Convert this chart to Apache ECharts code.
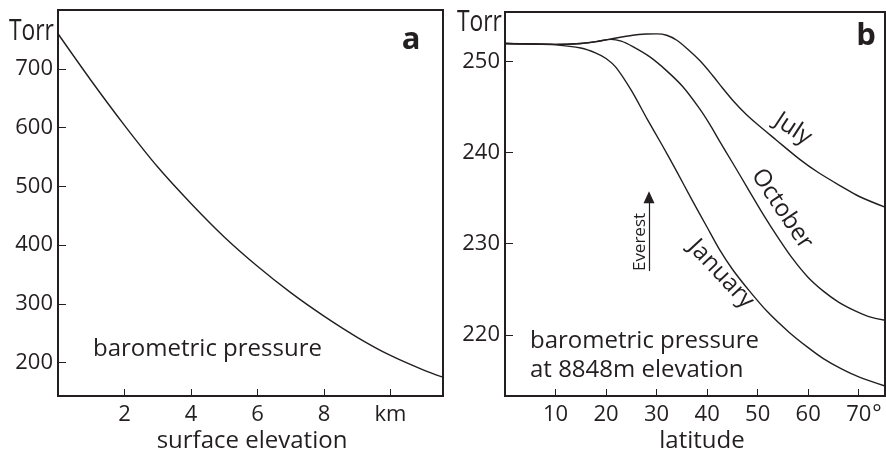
<!DOCTYPE html>
<html>
<head>
<meta charset="utf-8">
<script src="https://cdn.jsdelivr.net/npm/echarts@6/dist/echarts.min.js"></script>
<style>
html,body{margin:0;padding:0;background:#fff;}
#chart{width:886px;height:454px;}
</style>
</head>
<body>
<div id="chart"></div>
<script>
// Panel a: barometric pressure vs surface elevation
var elevKm = [0, 1, 2, 3, 4, 5, 6, 7, 8, 9, 10, 11, 11.55];
var pressureTorr = [760, 680, 604, 533, 471, 414, 364, 319, 279, 243, 212, 187, 175.5];
var elevTicks = [2, 4, 6, 8, 10];
var elevTickLabels = ['2', '4', '6', '8', 'km'];
var torrTicksA = [200, 300, 400, 500, 600, 700];

// Panel b: barometric pressure at 8848 m vs latitude
var janLat = [0, 5, 10, 15, 18, 20, 22, 25, 28, 31, 34, 37, 40, 42.4, 45, 48.4, 52, 56.2, 60, 63, 66.5, 70, 75.2];
var janP = [251.94, 251.9, 251.8, 251.45, 250.9, 250.3, 249.3, 246.8, 243.8, 240.9, 237.9, 234.8, 231.8, 229.4, 227.2, 224.8, 222.5, 220.3, 218.6, 217.4, 216.3, 215.4, 214.4];
var octLat = [0, 10, 15, 18, 21, 23, 25.3, 28.6, 31.9, 35.2, 38.5, 40.5, 42.4, 45, 48, 51, 54, 57, 60, 63, 66, 69.4, 72, 75.2];
var octP = [251.94, 251.85, 251.95, 252.15, 252.4, 252.2, 251.6, 250.5, 249.0, 247.2, 244.8, 243.1, 241.3, 238.9, 236.1, 233.3, 230.7, 228.3, 226.3, 224.8, 223.6, 222.6, 222.0, 221.6];
var julLat = [0, 10, 15, 18, 21, 25.3, 28, 30, 32, 34, 36, 38.5, 41, 43, 45.1, 47.5, 49.7, 53.6, 58.2, 62, 66.8, 70, 75.2];
var julP = [251.94, 251.85, 251.95, 252.15, 252.45, 252.85, 252.98, 253.0, 252.85, 252.3, 251.4, 250.1, 248.5, 247.1, 245.7, 244.3, 243.2, 241.4, 239.3, 237.8, 236.2, 235.2, 234.0];
var latTicks = [10, 20, 30, 40, 50, 60, 70];
var torrTicksB = [220, 230, 240, 250];
var everestLat = 28.5;
var everestArrow = [227.0, 235.1];

var INK = '#231f20';
var FONT = '"Open Sans", "Noto Sans", sans-serif';

function pairs(xs, ys) { return xs.map(function (x, i) { return [x, ys[i]]; }); }

var chart = echarts.init(document.getElementById('chart'), null, {renderer: 'canvas'});

function xAxisBase(gi, min, max, ticks, fmt) {
  return {
    type: 'value', gridIndex: gi, min: min, max: max,
    axisLine: {show: true, onZero: false, lineStyle: {color: INK, width: 2}},
    axisTick: {show: true, inside: true, length: 7, lineStyle: {color: INK, width: 1}, customValues: ticks},
    axisLabel: {show: true, color: INK, fontFamily: FONT, fontSize: 22, margin: 8, customValues: ticks, formatter: fmt},
    splitLine: {show: false}
  };
}
function yAxisBase(gi, min, max, ticks) {
  return {
    type: 'value', gridIndex: gi, min: min, max: max,
    axisLine: {show: true, onZero: false, lineStyle: {color: INK, width: 2}},
    axisTick: {show: true, inside: true, length: 8, lineStyle: {color: INK, width: 1}, customValues: ticks},
    axisLabel: {show: true, color: INK, fontFamily: FONT, fontSize: 22, margin: 5, customValues: ticks},
    splitLine: {show: false}
  };
}

var lineStyle = {color: INK, width: 1.4};

var option = {
  animation: false,
  backgroundColor: '#fff',
  grid: [
    {left: 58, top: 10, width: 385, height: 386, show: true, borderColor: INK, borderWidth: 2, containLabel: false},
    {left: 505, top: 12, width: 380, height: 384, show: true, borderColor: INK, borderWidth: 2, containLabel: false}
  ],
  xAxis: [
    xAxisBase(0, 0, 11.58, elevTicks, function (v) { var i = elevTicks.indexOf(v); return i >= 0 ? elevTickLabels[i] : ''; }),
    xAxisBase(1, 0, 75.2, latTicks, function (v) { return String(v); })
  ],
  yAxis: [
    yAxisBase(0, 143, 800.5, torrTicksA),
    yAxisBase(1, 213.3, 255.4, torrTicksB)
  ],
  series: [
    {type: 'line', xAxisIndex: 0, yAxisIndex: 0, data: pairs(elevKm, pressureTorr), smooth: 0.3, showSymbol: false, lineStyle: lineStyle, silent: true},
    {type: 'line', xAxisIndex: 1, yAxisIndex: 1, data: pairs(janLat, janP), smooth: 0.3, showSymbol: false, lineStyle: lineStyle, silent: true,
      markLine: {
        silent: true, symbol: ['none', 'triangle'], symbolSize: [11, 12],
        lineStyle: {color: INK, width: 1.2, type: 'solid'},
        label: {show: false},
        data: [[{coord: [everestLat, everestArrow[0]]}, {coord: [everestLat, everestArrow[1]]}]]
      }
    },
    {type: 'line', xAxisIndex: 1, yAxisIndex: 1, data: pairs(octLat, octP), smooth: 0.3, showSymbol: false, lineStyle: lineStyle, silent: true},
    {type: 'line', xAxisIndex: 1, yAxisIndex: 1, data: pairs(julLat, julP), smooth: 0.3, showSymbol: false, lineStyle: lineStyle, silent: true}
  ],
  graphic: [
    {type: 'text', x: 9, y: 31, scaleX: 0.76, style: {text: 'Torr', fill: INK, font: '30px ' + FONT, align: 'left', verticalAlign: 'middle'}},
    {type: 'text', x: 457, y: 22, scaleX: 0.76, style: {text: 'Torr', fill: INK, font: '30px ' + FONT, align: 'left', verticalAlign: 'middle'}},
    {type: 'text', x: 411, y: 40, style: {text: 'a', fill: INK, font: 'bold 31px ' + FONT, align: 'center', verticalAlign: 'middle'}},
    {type: 'text', x: 866, y: 36, style: {text: 'b', fill: INK, font: 'bold 31px ' + FONT, align: 'center', verticalAlign: 'middle'}},
    {type: 'text', x: 93, y: 349, style: {text: 'barometric pressure', fill: INK, font: '24px ' + FONT, align: 'left', verticalAlign: 'middle'}},
    {type: 'text', x: 530, y: 341, style: {text: 'barometric pressure', fill: INK, font: '24px ' + FONT, align: 'left', verticalAlign: 'middle'}},
    {type: 'text', x: 530, y: 370, style: {text: 'at 8848m elevation', fill: INK, font: '24px ' + FONT, align: 'left', verticalAlign: 'middle'}},
    {type: 'text', x: 252, y: 441, style: {text: 'surface elevation', fill: INK, font: '24px ' + FONT, align: 'center', verticalAlign: 'middle'}},
    {type: 'text', x: 702, y: 441, style: {text: 'latitude', fill: INK, font: '24px ' + FONT, align: 'center', verticalAlign: 'middle'}},
    {type: 'text', x: 877, y: 414, style: {text: '°', fill: INK, font: '22px ' + FONT, align: 'center', verticalAlign: 'middle'}},
    {type: 'text', x: 793, y: 129, rotation: -0.58, style: {text: 'July', fill: INK, font: '24px ' + FONT, align: 'center', verticalAlign: 'middle'}},
    {type: 'text', x: 782, y: 209, rotation: -0.98, style: {text: 'October', fill: INK, font: '24px ' + FONT, align: 'center', verticalAlign: 'middle'}},
    {type: 'text', x: 721, y: 274, rotation: -0.82, style: {text: 'January', fill: INK, font: '24px ' + FONT, align: 'center', verticalAlign: 'middle'}},
    {type: 'text', x: 640, y: 242, rotation: Math.PI / 2, style: {text: 'Everest', fill: INK, font: '17px ' + FONT, align: 'center', verticalAlign: 'middle'}}
  ]
};
chart.setOption(option);
</script>
</body>
</html>
